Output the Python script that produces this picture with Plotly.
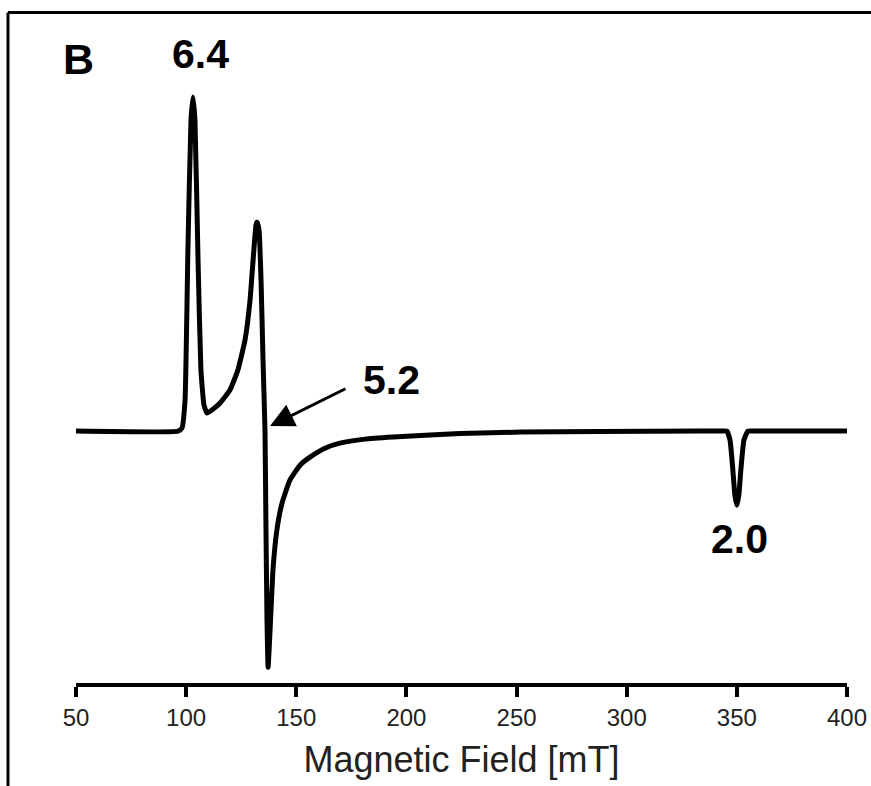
import plotly.graph_objects as go

# Magnetic field (mT) and EPR intensity (arbitrary units)
field_mT = [50.0, 96.3, 98.1, 99.5, 100.8, 102.2, 103.1, 104.0, 105.4, 106.7,
            108.1, 109.5, 111.7, 115.4, 119.9, 123.5, 126.7, 129.0, 130.4, 131.7,
            132.2, 133.1, 134.0, 134.9, 135.8, 136.2, 136.7, 137.2, 138.1, 139.4,
            141.2, 143.5, 147.1, 151.7, 156.2, 163.0, 169.8, 181.2, 193.9, 210.7,
            224.3, 251.6, 287.9, 333.3, 343.0, 345.5, 346.9, 348.2, 349.1, 350.0,
            350.9, 351.8, 353.2, 355.0, 358.0, 365.0, 400.0]
intensity = [0.0, 0.0, 0.009, 0.093, 0.542, 0.931, 1.0, 0.931, 0.512, 0.183,
             0.078, 0.054, 0.063, 0.084, 0.123, 0.183, 0.272, 0.392, 0.512, 0.617,
             0.626, 0.602, 0.452, 0.213, 0.0, -0.266, -0.566, -0.707, -0.596, -0.416,
             -0.296, -0.216, -0.147, -0.102, -0.078, -0.051, -0.036, -0.024, -0.018, -0.012,
             -0.0075, -0.003, -0.0015, 0.0, 0.0, 0.0, -0.027, -0.117, -0.192, -0.222,
             -0.192, -0.117, -0.027, 0.0, 0.0, 0.0, 0.0]

tick_vals = [50, 100, 150, 200, 250, 300, 350, 400]
tick_text = ["50", "100", "150", "200", "250", "300", "350", "400"]

# g-value labels inside the data range (mT, intensity)
g_labels = ["5.2", "2.0"]
g_label_x = [193.0, 351.4]
g_label_y = [0.153, -0.323]

FONT = "Liberation Sans, Arial, sans-serif"

fig = go.Figure()
fig.add_trace(go.Scatter(
    x=field_mT, y=intensity, mode="lines",
    line=dict(color="#000000", width=5, shape="spline", smoothing=0.4),
    hoverinfo="skip", showlegend=False,
))

for txt, gx, gy in zip(g_labels, g_label_x, g_label_y):
    fig.add_annotation(x=gx, y=gy, xref="x", yref="y", text=f"<b>{txt}</b>",
                       showarrow=False, font=dict(family=FONT, size=41, color="#000000"),
                       xanchor="center", yanchor="middle")

# 6.4 label above the top of the plot area
fig.add_annotation(x=0.1621, y=1.0431, xref="paper", yref="paper", text="<b>6.4</b>",
                   showarrow=False, font=dict(family=FONT, size=41, color="#000000"),
                   xanchor="center", yanchor="middle")

# panel letter
fig.add_annotation(x=0.0026, y=1.0348, xref="paper", yref="paper", text="<b>B</b>",
                   showarrow=False, font=dict(family=FONT, size=43, color="#000000"),
                   xanchor="center", yanchor="middle")

# arrow pointing to the 5.2 feature
fig.add_annotation(x=138.1, y=0.015, xref="x", yref="y",
                   ax=173.0, ay=0.129, axref="x", ayref="y",
                   text="", showarrow=True, arrowhead=2, arrowsize=1.6,
                   arrowwidth=3, arrowcolor="#000000")

# figure frame (top and left edges)
fig.add_shape(type="line", xref="paper", yref="paper",
              x0=-0.0882, x1=1.05, y0=1.112, y1=1.112,
              line=dict(color="#000000", width=3))
fig.add_shape(type="line", xref="paper", yref="paper",
              x0=-0.0882, x1=-0.0882, y0=1.112, y1=-0.2,
              line=dict(color="#000000", width=3))

fig.update_layout(
    width=871, height=786,
    margin=dict(l=76, r=24, t=80, b=103, autoexpand=False),
    paper_bgcolor="#ffffff", plot_bgcolor="#ffffff",
    xaxis=dict(
        range=[50, 400], tickvals=tick_vals, ticktext=tick_text,
        automargin=False,
        showline=True, linecolor="#000000", linewidth=4,
        ticks="outside", ticklen=10, tickwidth=4, tickcolor="#000000",
        showgrid=False, zeroline=False,
        tickfont=dict(family=FONT, size=24, color="#222222"),
        title=dict(text="Magnetic Field [mT]", standoff=18,
                   font=dict(family=FONT, size=36, color="#222222")),
    ),
    yaxis=dict(range=[-0.754, 1.051], visible=False, showgrid=False,
               zeroline=False, automargin=False),
)

fig.write_html(
    "out.html",
    config={"displayModeBar": False},
    post_script="document.body.style.margin='0';document.body.style.overflow='hidden';",
)
